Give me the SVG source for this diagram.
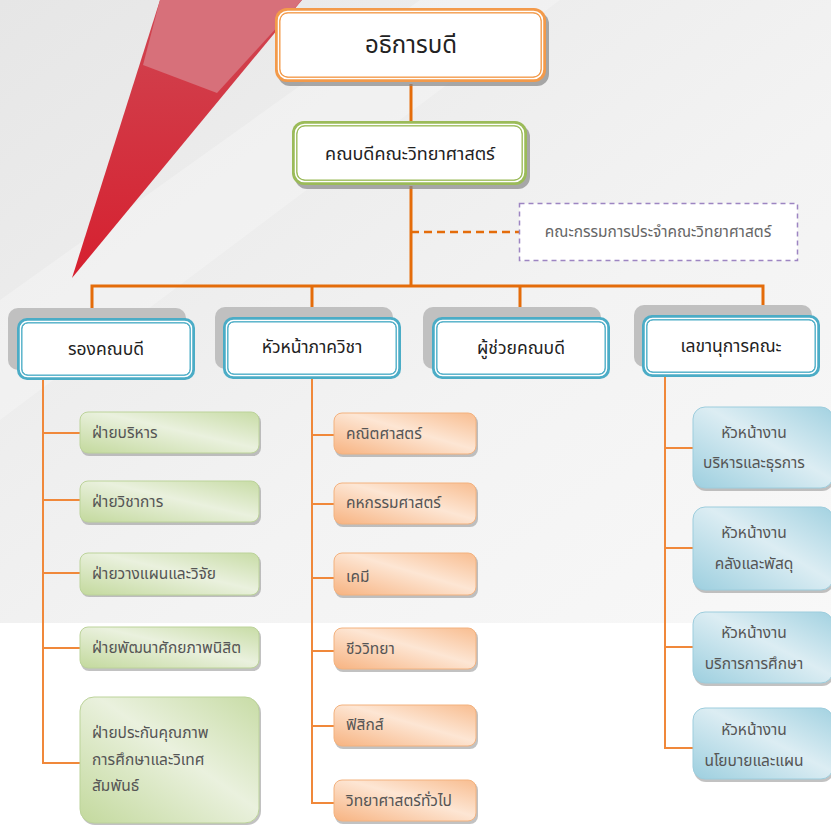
<svg xmlns="http://www.w3.org/2000/svg" width="831" height="827" viewBox="0 0 831 827">
<defs>
<linearGradient id="bg" x1="0" y1="0" x2="1" y2="1">
<stop offset="0" stop-color="#e6e6e6"/><stop offset="0.6" stop-color="#f3f3f3"/><stop offset="1" stop-color="#f8f8f8"/>
</linearGradient>
<linearGradient id="red" x1="0" y1="0" x2="0" y2="1">
<stop offset="0" stop-color="#d04652"/><stop offset="1" stop-color="#d6202f"/>
</linearGradient>
<linearGradient id="gG" x1="0" y1="1" x2="1" y2="0">
<stop offset="0" stop-color="#c3d99d"/><stop offset="0.55" stop-color="#eaf1de"/><stop offset="1" stop-color="#c8dca6"/>
</linearGradient>
<linearGradient id="gO" x1="0" y1="1" x2="1" y2="0">
<stop offset="0" stop-color="#f7b381"/><stop offset="0.55" stop-color="#fde6d4"/><stop offset="1" stop-color="#f8bd90"/>
</linearGradient>
<linearGradient id="gB" x1="0" y1="1" x2="1" y2="0">
<stop offset="0" stop-color="#9dcfdf"/><stop offset="0.55" stop-color="#dcedf3"/><stop offset="1" stop-color="#a3d2e1"/>
</linearGradient>
<style>
text{font-family:"Noto Sans Thai","Tahoma","Loma","Garuda","DejaVu Sans",sans-serif;fill:#222}
.big{font-size:24px;text-anchor:middle}
.mid{font-size:18px;text-anchor:middle}
.head{font-size:17.5px;text-anchor:middle}
.sm{font-size:15.5px;fill:#555}
.smc{font-size:15.5px;fill:#555;text-anchor:middle}
.com{font-size:15.5px;fill:#666;text-anchor:middle}
.trunk{stroke:#e46c0a;stroke-width:3;fill:none}
.br{stroke:#f0883a;stroke-width:2;fill:none}
.sh{fill:#888;opacity:.7}
.hs{fill:#c0c0c0}
.bsh{fill:#9a9a9a;opacity:.6}
</style>
</defs>
<rect x="0" y="0" width="831" height="623" fill="url(#bg)"/>
<rect x="0" y="623" width="831" height="204" fill="#ffffff"/>
<polygon points="0,300 420,0 560,0 0,420" fill="#ffffff" opacity="0.25"/>
<polygon points="160,0 302,0 72,278" fill="url(#red)"/>
<polygon points="160,0 302,0 217,93 143,65" fill="#d7707a"/>

<g id="connectors">
<line class="trunk" x1="411" y1="84" x2="411" y2="121"/>
<line class="trunk" x1="411" y1="186" x2="411" y2="287"/>
<line x1="411" y1="232" x2="519" y2="232" stroke="#e46c0a" stroke-width="2.5" stroke-dasharray="8,5"/>
<polyline class="trunk" points="92,318 92,286 763,286 763,316"/>
<line class="trunk" x1="312" y1="286" x2="312" y2="318"/>
<line class="trunk" x1="520" y1="286" x2="520" y2="318"/>
<polyline class="br" points="43,379 43,763 80,763"/>
<line class="br" x1="43" y1="433" x2="80" y2="433"/>
<line class="br" x1="43" y1="500" x2="80" y2="500"/>
<line class="br" x1="43" y1="573" x2="80" y2="573"/>
<line class="br" x1="43" y1="648" x2="80" y2="648"/>
<polyline class="br" points="312,378 312,803 334,803"/>
<line class="br" x1="312" y1="435" x2="334" y2="435"/>
<line class="br" x1="312" y1="504" x2="334" y2="504"/>
<line class="br" x1="312" y1="578" x2="334" y2="578"/>
<line class="br" x1="312" y1="651" x2="334" y2="651"/>
<line class="br" x1="312" y1="726" x2="334" y2="726"/>
<polyline class="br" points="665,377 665,748 693,748"/>
<line class="br" x1="665" y1="448" x2="693" y2="448"/>
<line class="br" x1="665" y1="548" x2="693" y2="548"/>
<line class="br" x1="665" y1="647" x2="693" y2="647"/>
</g>

<g id="dean-top">
<rect class="sh" x="278" y="12" width="271" height="74" rx="12"/>
<rect x="275" y="8" width="271" height="74" rx="12" fill="#f39a4a"/>
<rect x="278.5" y="11.5" width="264" height="67" rx="9" fill="none" stroke="#fff" stroke-width="1.5"/>
<rect x="280" y="13" width="261" height="64" rx="8" fill="#fff" stroke="#f39a4a" stroke-width="1"/>
<text class="big" x="411" y="53">อธิการบดี</text>
</g>
<g id="dean-faculty">
<rect class="sh" x="295" y="125" width="235" height="64" rx="12"/>
<rect x="292" y="121" width="235" height="64" rx="12" fill="#9bbb59"/>
<rect x="295.5" y="124.5" width="228" height="57" rx="9" fill="none" stroke="#fff" stroke-width="1.5"/>
<rect x="297" y="126" width="225" height="54" rx="8" fill="#fff" stroke="#9bbb59" stroke-width="1"/>
<text class="mid" x="410" y="160">คณบดีคณะวิทยาศาสตร์</text>
</g>
<g id="committee">
<rect x="519.5" y="203.5" width="278" height="57" fill="#fff" stroke="#9d85c2" stroke-width="1.5" stroke-dasharray="5,4"/>
<text class="com" x="658" y="237">คณะกรรมการประจำคณะวิทยาศาสตร์</text>
</g>

<g id="vice-dean">
<rect class="hs" x="8" y="308" width="178" height="62" rx="10"/>
<rect x="17" y="318" width="178" height="62" rx="10" fill="#4bacc6"/>
<rect x="20.5" y="321.5" width="171" height="55" rx="7" fill="none" stroke="#fff" stroke-width="1.5"/>
<rect x="22" y="323" width="168" height="52" rx="6" fill="#fff" stroke="#4bacc6" stroke-width="1"/>
<text class="head" x="106" y="355">รองคณบดี</text>
</g>
<g id="dept-heads">
<rect class="hs" x="215" y="307" width="178" height="62" rx="10"/>
<rect x="223" y="317" width="178" height="62" rx="10" fill="#4bacc6"/>
<rect x="226.5" y="320.5" width="171" height="55" rx="7" fill="none" stroke="#fff" stroke-width="1.5"/>
<rect x="228" y="322" width="168" height="52" rx="6" fill="#fff" stroke="#4bacc6" stroke-width="1"/>
<text class="head" x="312" y="353">หัวหน้าภาควิชา</text>
</g>
<g id="asst-dean">
<rect class="hs" x="423" y="307" width="178" height="62" rx="10"/>
<rect x="432" y="317" width="178" height="62" rx="10" fill="#4bacc6"/>
<rect x="435.5" y="320.5" width="171" height="55" rx="7" fill="none" stroke="#fff" stroke-width="1.5"/>
<rect x="437" y="322" width="168" height="52" rx="6" fill="#fff" stroke="#4bacc6" stroke-width="1"/>
<text class="head" x="521" y="354">ผู้ช่วยคณบดี</text>
</g>
<g id="secretary">
<rect class="hs" x="634" y="305" width="178" height="62" rx="10"/>
<rect x="642" y="315" width="178" height="62" rx="10" fill="#4bacc6"/>
<rect x="645.5" y="318.5" width="171" height="55" rx="7" fill="none" stroke="#fff" stroke-width="1.5"/>
<rect x="647" y="320" width="168" height="52" rx="6" fill="#fff" stroke="#4bacc6" stroke-width="1"/>
<text class="head" x="731" y="352">เลขานุการคณะ</text>
</g>

<g id="g1"><rect class="bsh" x="81" y="414" width="180" height="42" rx="8"/><rect x="80" y="412" width="179" height="41" rx="8" fill="url(#gG)" stroke="#bcd39a" stroke-width="1"/><text class="sm" x="92" y="438">ฝ่ายบริหาร</text></g>
<g id="g2"><rect class="bsh" x="81" y="483" width="180" height="42" rx="8"/><rect x="80" y="481" width="179" height="41" rx="8" fill="url(#gG)" stroke="#bcd39a" stroke-width="1"/><text class="sm" x="92" y="507">ฝ่ายวิชาการ</text></g>
<g id="g3"><rect class="bsh" x="81" y="555" width="180" height="42" rx="8"/><rect x="80" y="553" width="179" height="42" rx="8" fill="url(#gG)" stroke="#bcd39a" stroke-width="1"/><text class="sm" x="92" y="579">ฝ่ายวางแผนและวิจัย</text></g>
<g id="g4"><rect class="bsh" x="81" y="629" width="180" height="42" rx="8"/><rect x="80" y="627" width="179" height="41" rx="8" fill="url(#gG)" stroke="#bcd39a" stroke-width="1"/><text class="sm" x="92" y="653">ฝ่ายพัฒนาศักยภาพนิสิต</text></g>
<g id="g5"><rect class="bsh" x="81" y="699" width="180" height="126" rx="14"/><rect x="80" y="697" width="179" height="126" rx="14" fill="url(#gG)" stroke="#bcd39a" stroke-width="1"/>
<text class="sm" x="92" y="738">ฝ่ายประกันคุณภาพ</text><text class="sm" x="92" y="765">การศึกษาและวิเทศ</text><text class="sm" x="92" y="791">สัมพันธ์</text></g>

<g id="o1"><rect class="bsh" x="335" y="415" width="143" height="42" rx="8"/><rect x="334" y="413" width="142" height="41" rx="8" fill="url(#gO)" stroke="#f3b27f" stroke-width="1"/><text class="sm" x="346" y="439">คณิตศาสตร์</text></g>
<g id="o2"><rect class="bsh" x="335" y="485" width="143" height="42" rx="8"/><rect x="334" y="483" width="142" height="41" rx="8" fill="url(#gO)" stroke="#f3b27f" stroke-width="1"/><text class="sm" x="346" y="508">คหกรรมศาสตร์</text></g>
<g id="o3"><rect class="bsh" x="335" y="555" width="143" height="43" rx="8"/><rect x="334" y="553" width="142" height="42" rx="8" fill="url(#gO)" stroke="#f3b27f" stroke-width="1"/><text class="sm" x="346" y="582">เคมี</text></g>
<g id="o4"><rect class="bsh" x="335" y="630" width="143" height="42" rx="8"/><rect x="334" y="628" width="142" height="41" rx="8" fill="url(#gO)" stroke="#f3b27f" stroke-width="1"/><text class="sm" x="346" y="654">ชีววิทยา</text></g>
<g id="o5"><rect class="bsh" x="335" y="707" width="143" height="42" rx="8"/><rect x="334" y="705" width="142" height="41" rx="8" fill="url(#gO)" stroke="#f3b27f" stroke-width="1"/><text class="sm" x="346" y="730">ฟิสิกส์</text></g>
<g id="o6"><rect class="bsh" x="335" y="782" width="143" height="42" rx="8"/><rect x="334" y="780" width="142" height="41" rx="8" fill="url(#gO)" stroke="#f3b27f" stroke-width="1"/><text class="sm" x="346" y="806">วิทยาศาสตร์ทั่วไป</text></g>

<g id="b1"><rect class="bsh" x="694" y="409" width="140" height="82" rx="12"/><rect x="693" y="407" width="140" height="81" rx="12" fill="url(#gB)" stroke="#9dcddd" stroke-width="1"/><text class="smc" x="754" y="438">หัวหน้างาน</text><text class="smc" x="754" y="468">บริหารและธุรการ</text></g>
<g id="b2"><rect class="bsh" x="694" y="509" width="140" height="84" rx="12"/><rect x="693" y="507" width="140" height="83" rx="12" fill="url(#gB)" stroke="#9dcddd" stroke-width="1"/><text class="smc" x="754" y="538">หัวหน้างาน</text><text class="smc" x="754" y="569">คลังและพัสดุ</text></g>
<g id="b3"><rect class="bsh" x="694" y="614" width="140" height="72" rx="12"/><rect x="693" y="612" width="140" height="71" rx="12" fill="url(#gB)" stroke="#9dcddd" stroke-width="1"/><text class="smc" x="754" y="638">หัวหน้างาน</text><text class="smc" x="754" y="669">บริการการศึกษา</text></g>
<g id="b4"><rect class="bsh" x="694" y="710" width="140" height="72" rx="12"/><rect x="693" y="708" width="140" height="71" rx="12" fill="url(#gB)" stroke="#9dcddd" stroke-width="1"/><text class="smc" x="754" y="735">หัวหน้างาน</text><text class="smc" x="754" y="766">นโยบายและแผน</text></g>
</svg>
